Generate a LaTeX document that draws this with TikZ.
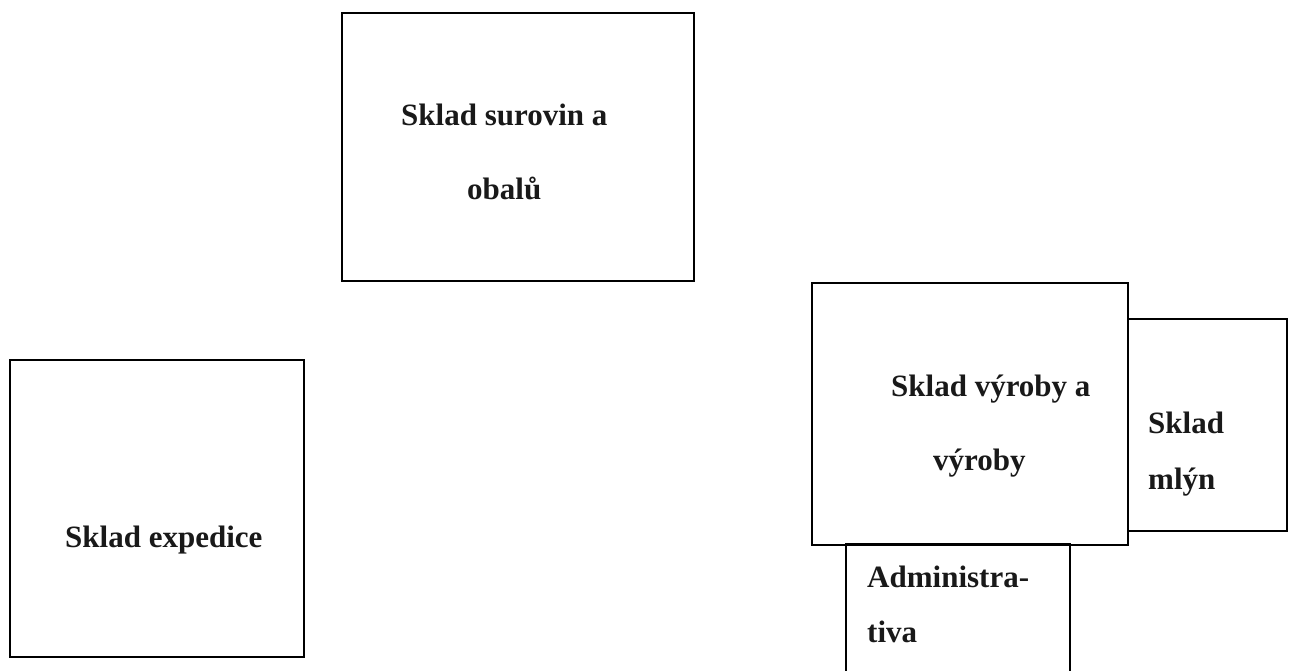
\documentclass[tikz,border=0pt]{standalone}
\usepackage{fontspec}
\setmainfont{Liberation Serif}
\begin{document}
\begin{tikzpicture}[x=1pt,y=-1pt,
  room/.style={draw=black,line width=1.6pt,rectangle,inner sep=0pt,anchor=north west},
  lbl/.style={inner sep=0pt,anchor=base west,font=\fontsize{31}{37}\selectfont\bfseries,text=black!90}]
\useasboundingbox[fill=white] (0,0) rectangle (1289,671);
\node[room,minimum width=352pt,minimum height=268pt] (surov) at (341,12) {};
\node[room,minimum width=294pt,minimum height=297pt] (exped) at (9,359) {};
\node[room,minimum width=316pt,minimum height=262pt] (vyroba) at (811,282) {};
\node[room,minimum width=159pt,minimum height=212pt] (mlyn) at (1127,318) {};
\node[room,minimum width=224pt,minimum height=160pt] (admin) at (845,543) {};
\node[lbl] (t1) at (401,126) {Sklad surovin a};
\node[lbl] (t2) at (467,200) {obalů};
\node[lbl] (t3) at (65,547) {Sklad expedice};
\node[lbl] (t4) at (891,396) {Sklad výroby a};
\node[lbl] (t5) at (933,470) {výroby};
\node[lbl] (t6) at (1148,433) {Sklad};
\node[lbl] (t7) at (1148,489) {mlýn};
\node[lbl] (t8) at (867,587) {Administra-};
\node[lbl] (t9) at (867,642) {tiva};
\end{tikzpicture}
\end{document}
